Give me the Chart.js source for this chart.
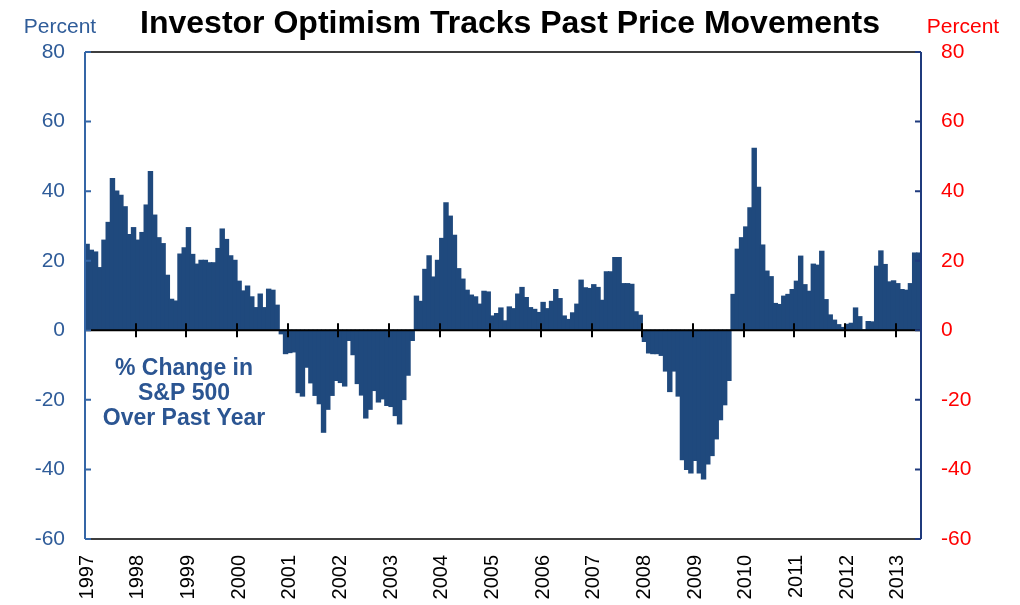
<!DOCTYPE html>
<html>
<head>
<meta charset="utf-8">
<script src="https://cdn.jsdelivr.net/npm/chart.js@4"></script>
<style>
  html, body { margin: 0; padding: 0; background: #fff; }
  #wrap { width: 1020px; height: 605px; position: relative; }
</style>
</head>
<body>
<div id="wrap"><canvas id="c" width="1020" height="605"></canvas></div>
<script>
// Year tick labels
const years = ['1997','1998','1999','2000','2001','2002','2003','2004','2005','2006','2007','2008','2009','2010','2011','2012','2013'];

// % change in S&P 500 over past year, monthly, by year
const v1997 = [24.7, 23.0, 22.5, 18.0, 25.9, 31.0, 43.6, 40.0, 38.8, 35.5, 27.5, 29.5];
const v1998 = [25.9, 28.1, 36.0, 45.6, 33.1, 26.6, 24.9, 15.8, 8.9, 8.4, 21.9, 23.7];
const v1999 = [29.5, 21.8, 19.0, 20.1, 20.1, 19.4, 19.4, 23.5, 29.1, 26.1, 21.4, 20.1];
const v2000 = [14.1, 11.3, 12.7, 9.6, 6.5, 10.4, 6.5, 11.8, 11.5, 7.2, -1.0, -6.7];
const v2001 = [-6.4, -6.2, -17.9, -18.9, -10.6, -15.1, -18.7, -21.1, -29.3, -22.7, -18.7, -14.4];
const v2002 = [-15.0, -16.0, -2.9, -7.0, -15.3, -18.6, -25.2, -22.7, -17.3, -20.6, -19.7, -21.6];
const v2003 = [-21.9, -24.5, -26.9, -19.9, -12.9, -2.9, 9.8, 8.3, 17.5, 21.4, 15.3, 20.1];
const v2004 = [26.4, 36.6, 32.8, 27.3, 17.7, 14.7, 11.5, 10.1, 9.6, 7.5, 11.2, 11.0];
const v2005 = [4.1, 4.8, 6.4, 2.7, 6.7, 6.2, 10.4, 12.3, 9.4, 6.5, 6.0, 5.1];
const v2006 = [8.0, 6.2, 8.3, 11.7, 9.1, 4.1, 3.1, 5.0, 7.5, 14.4, 12.2, 12.0];
const v2007 = [13.1, 12.3, 8.6, 16.8, 16.8, 20.9, 20.9, 13.4, 13.4, 13.2, 5.3, 4.3];
const v2008 = [-3.2, -6.5, -6.7, -6.7, -7.2, -11.7, -17.6, -11.7, -18.9, -37.2, -40.0, -41.0];
const v2009 = [-37.4, -41.0, -42.7, -38.4, -36.0, -31.2, -25.7, -21.4, -14.4, 10.3, 23.3, 26.6];
const v2010 = [29.7, 35.2, 52.3, 41.1, 24.5, 17.0, 15.4, 7.7, 7.4, 9.8, 10.3, 11.7];
const v2011 = [14.1, 21.3, 13.1, 11.2, 19.0, 18.7, 22.7, 8.8, 4.4, 2.9, 1.6, 0.8];
const v2012 = [1.7, 2.0, 6.4, 3.9, 0.1, 2.5, 2.4, 18.4, 22.8, 18.9, 13.9, 14.2];
const v2013 = [13.4, 11.7, 11.5, 13.4, 22.2, 22.2];

const yTicks = [-60, -40, -20, 0, 20, 40, 60, 80];

const values = [].concat(v1997, v1998, v1999, v2000, v2001, v2002, v2003, v2004, v2005,
  v2006, v2007, v2008, v2009, v2010, v2011, v2012, v2013);
const months = values.map((_, i) => years[Math.floor(i / 12)] + '-' + String(i % 12 + 1).padStart(2, '0'));

const FONT = "'Liberation Sans', Arial, sans-serif";
const BAR = '#1F497D';
const LEFTC = '#2F5C99';

const decor = {
  id: 'decor',
  afterDatasetsDraw(chart) {
    const ctx = chart.ctx;
    const a = chart.chartArea;
    const xs = chart.scales.x, ys = chart.scales.y;
    const y0 = ys.getPixelForValue(0);
    const w = (a.right - a.left) / values.length;
    ctx.save();
    // top & bottom borders
    ctx.strokeStyle = '#000';
    ctx.lineWidth = 1.5;
    ctx.beginPath();
    ctx.moveTo(a.left, a.top); ctx.lineTo(a.right, a.top);
    ctx.moveTo(a.left, a.bottom); ctx.lineTo(a.right, a.bottom);
    ctx.stroke();
    // zero line with year ticks
    ctx.lineWidth = 2;
    ctx.beginPath();
    ctx.moveTo(a.left, y0); ctx.lineTo(a.right, y0);
    for (let i = 0; i <= values.length; i += 12) {
      const x = Math.round(i < values.length ? xs.getPixelForValue(i) - w / 2 : a.right);
      ctx.moveTo(x, y0 - 7); ctx.lineTo(x, y0 + 7);
    }
    ctx.moveTo(a.right, y0 - 7); ctx.lineTo(a.right, y0 + 7);
    ctx.stroke();
    // left axis
    ctx.strokeStyle = '#3566A6';
    ctx.lineWidth = 2;
    ctx.beginPath();
    ctx.moveTo(a.left, a.top); ctx.lineTo(a.left, a.bottom);
    yTicks.forEach(t => { const y = ys.getPixelForValue(t); ctx.moveTo(a.left, y); ctx.lineTo(a.left + 6, y); });
    ctx.stroke();
    // right axis
    ctx.strokeStyle = '#1F3A7D';
    ctx.beginPath();
    ctx.moveTo(a.right, a.top); ctx.lineTo(a.right, a.bottom);
    yTicks.forEach(t => { const y = ys.getPixelForValue(t); ctx.moveTo(a.right, y); ctx.lineTo(a.right - 6, y); });
    ctx.stroke();
    // texts
    ctx.textAlign = 'center';
    ctx.textBaseline = 'alphabetic';
    ctx.fillStyle = '#000';
    ctx.font = 'bold 32px ' + FONT;
    ctx.fillText('Investor Optimism Tracks Past Price Movements', 510, 33);
    ctx.font = '21px ' + FONT;
    ctx.fillStyle = LEFTC;
    ctx.fillText('Percent', 60, 33);
    ctx.fillStyle = '#FF0000';
    ctx.fillText('Percent', 963, 33);
    ctx.fillStyle = '#2B5592';
    ctx.font = 'bold 23px ' + FONT;
    ctx.fillText('% Change in', 184, 375);
    ctx.fillText('S&P 500', 184, 400);
    ctx.fillText('Over Past Year', 184, 425);
    ctx.restore();
  }
};

new Chart(document.getElementById('c'), {
  type: 'bar',
  data: {
    labels: months,
    datasets: [{
      data: values,
      backgroundColor: BAR,
      borderWidth: 0,
      barPercentage: 1.0,
      categoryPercentage: 1.0,
      inflateAmount: 0.6,
      yAxisID: 'y'
    }]
  },
  options: {
    responsive: false,
    animation: false,
    devicePixelRatio: 1,
    layout: { padding: { top: 52, left: 0, right: 0, bottom: 0 } },
    plugins: { legend: { display: false }, tooltip: { enabled: false }, title: { display: false } },
    scales: {
      x: {
        type: 'category',
        grid: { display: false, drawTicks: false },
        border: { display: false },
        ticks: {
          autoSkip: false,
          minRotation: 90,
          maxRotation: 90,
          padding: 16,
          color: '#000',
          font: { family: FONT, size: 20 },
          callback: (val, idx) => (idx % 12 === 0 ? years[idx / 12] : '')
        },
        afterFit: s => { s.height = 66; }
      },
      y: {
        position: 'left',
        min: -60, max: 80,
        grid: { display: false, drawTicks: false },
        border: { display: false },
        ticks: { stepSize: 20, padding: 20, color: LEFTC, font: { family: FONT, size: 21 } },
        afterFit: s => { s.width = 85; }
      },
      y2: {
        position: 'right',
        min: -60, max: 80,
        grid: { display: false, drawTicks: false },
        border: { display: false },
        ticks: { stepSize: 20, padding: 20, color: '#FF0000', font: { family: FONT, size: 21 } },
        afterFit: s => { s.width = 99; }
      }
    }
  },
  plugins: [decor]
});
</script>
</body>
</html>
